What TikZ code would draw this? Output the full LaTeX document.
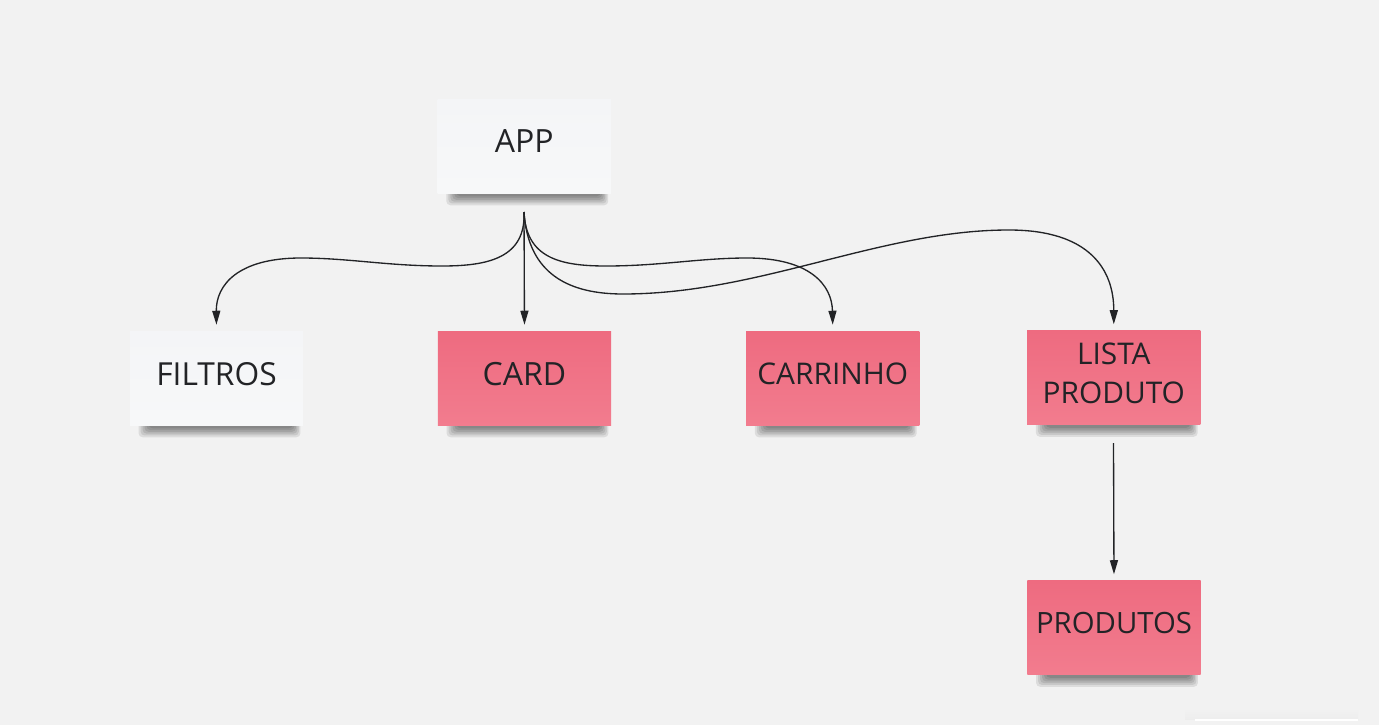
\documentclass[tikz,border=0pt]{standalone}
\usepackage{fontspec}
\setmainfont{Open Sans}
\usetikzlibrary{arrows.meta,calc}
\definecolor{bgc}{HTML}{F2F2F2}
\definecolor{pinktop}{HTML}{EE6B80}
\definecolor{pinkbot}{HTML}{F27C8E}
\definecolor{whitetop}{HTML}{F4F5F7}
\definecolor{whitebot}{HTML}{F7F8F9}
\definecolor{ink}{HTML}{222326}
\pgfdeclarelayer{bglayer}
\pgfdeclarelayer{shadowlayer}
\pgfsetlayers{bglayer,shadowlayer,main}
\tikzset{
  note/.style={rectangle, inner sep=0pt, text=ink, minimum width=130pt, minimum height=70.5pt, text depth=6.75pt, align=center},
  pinknote/.style={note, top color=pinktop, bottom color=pinkbot},
  whitenote/.style={note, top color=whitetop, bottom color=whitebot},
  bigtext/.style={font=\fontsize{24pt}{29pt}\selectfont},
  midtext/.style={font=\fontsize{23.8pt}{29pt}\selectfont},
  smalltext/.style={font=\fontsize{22.4pt}{29.7pt}\selectfont},
  prodtext/.style={font=\fontsize{22pt}{29.7pt}\selectfont},
  conn/.style={draw=ink, line width=1pt, -{Triangle[length=10.5pt,width=6pt]}, shorten >=4.5pt},
  shlayer/.style={fill=black, fill opacity=0.09}
}
\begin{document}
\begin{tikzpicture}[x=0.75pt,y=-0.75pt]
\begin{pgfonlayer}{bglayer}
\fill[bgc] (0,0) rectangle (1379,725);
\useasboundingbox (0,0) rectangle (1379,725);
\shade[top color=bgc, bottom color=black!7] (1185,708) rectangle (1358,719.5);
\draw[white, line width=1pt] (1195,720) -- (1358,720);
\end{pgfonlayer}

\node[whitenote, bigtext] (app) at (524.3,146) {APP};
\node[whitenote, midtext] (filtros) at (216.5,378) {FILTROS};
\node[pinknote, bigtext] (card) at (524.5,378) {CARD};
\node[pinknote, smalltext] (carrinho) at (832.8,378) {CARRINHO};
\node[pinknote, smalltext] (lista) at (1113.8,377.5) {LISTA\\PRODUTO};
\node[pinknote, prodtext] (produtos) at (1114,627.5) {PRODUTOS};

\begin{pgfonlayer}{shadowlayer}
\foreach \n in {app,filtros,card,carrinho,lista,produtos}{
  \foreach \k in {0,1,2,3,4,5}{
    \fill[shlayer, rounded corners=3pt] ($(\n.south west)+(9+2*\k,-4)$) rectangle ($(\n.south east)+(-3-1.5*\k,12-1.8*\k)$);
  }
}
\end{pgfonlayer}

\coordinate (appout) at (524,212);
\coordinate (listaout) at (1113.5,443);

\draw[conn] (appout) -- (card.north);
\draw[conn] (appout) .. controls (526,258) and (488,266) .. (442,266)
  .. controls (388,266) and (348,258) .. (301,258)
  .. controls (238,258) and (216,285) .. (filtros.north);
\draw[conn] (appout) .. controls (526,258) and (560,266) .. (606,266)
  .. controls (660,266) and (700,258) .. (747,258)
  .. controls (810,258) and (832,285) .. (carrinho.north);
\draw[conn] (appout) .. controls (528,275) and (570,294) .. (623,294)
  .. controls (760,294) and (880,230) .. (1009,230)
  .. controls (1090,230) and (1113.8,270) .. (lista.north);
\draw[conn] (listaout) -- (produtos.north);
\end{tikzpicture}
\end{document}
